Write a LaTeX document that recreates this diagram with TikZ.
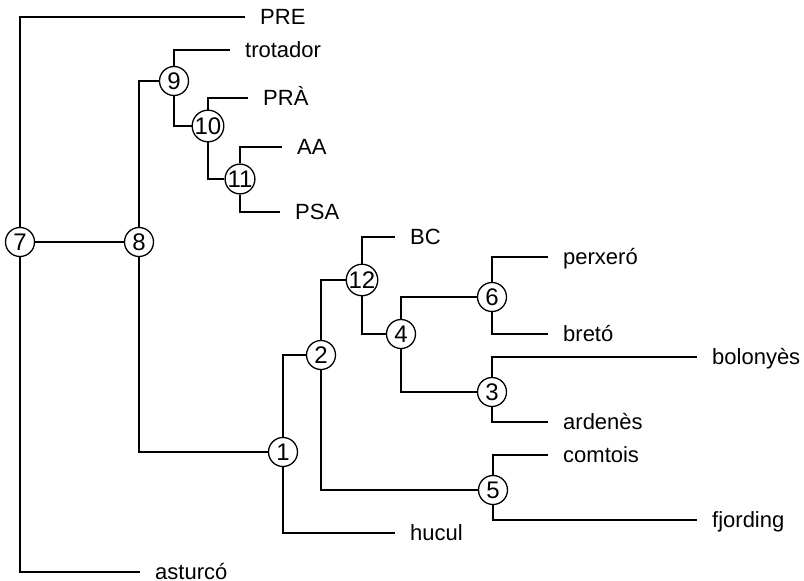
\documentclass[tikz,border=0pt]{standalone}
\usepackage{fontspec}
\setmainfont{Liberation Sans}
\usepackage{tikz}
\usetikzlibrary{calc}
\definecolor{treeblack}{RGB}{0, 0, 0}

\begin{document}
\begin{tikzpicture}[x=1pt, y=-1pt,
    every node/.style={font=\fontsize{22}{25}\selectfont},
    junction/.style={circle, draw=treeblack, line width=1.3pt, fill=white,
      minimum size=29pt, inner sep=0pt, font=\fontsize{24}{26}\selectfont},
    leaf/.style={anchor=west, inner xsep=15pt, inner ysep=0pt,
      text height=15.5pt, text depth=0pt},
    branch/.style={treeblack, line width=2pt}]
        \useasboundingbox (0,0) rectangle (804,581);
        % Junctions
        \foreach \id/\x/\y in {
            7/20/242, 8/139/242, 9/174/81, 10/208/126, 11/240/179,
            12/362/280, 2/321/355, 1/283/452, 4/401/334,
            6/492/297, 3/492/392, 5/493/490}{
          \node[junction] (n\id) at (\x,\y) {\id};
        }
        % Leaves
        \foreach \id/\x/\y/\txt in {
            pre/245/17/PRE, trotador/230/50/trotador, pra/248/98/PRÀ,
            aa/282/147/AA, psa/280/212/PSA, bc/395/237/BC,
            perxero/548/257/perxeró, breto/548/334/bretó,
            bolonyes/697/357/bolonyès, ardenes/548/422/ardenès,
            comtois/548/455/comtois, fjording/697/520/fjording,
            hucul/395/533/hucul, asturco/140/572/asturcó}{
          \node[leaf] (\id) at (\x,\y) {\txt};
        }
        % Branches
        \draw[branch] (n7) -- (n8);
        \foreach \a/\b in {
            n7/pre, n7/asturco, n8/n9, n8/n1, n9/trotador, n9/n10,
            n10/pra, n10/n11, n11/aa, n11/psa, n1/n2, n1/hucul,
            n2/n12, n2/n5, n12/bc, n12/n4, n4/n6, n4/n3,
            n6/perxero, n6/breto, n3/bolonyes, n3/ardenes,
            n5/comtois, n5/fjording}{
          \draw[branch] (\a) |- (\b);
        }
      \end{tikzpicture}
\end{document}
